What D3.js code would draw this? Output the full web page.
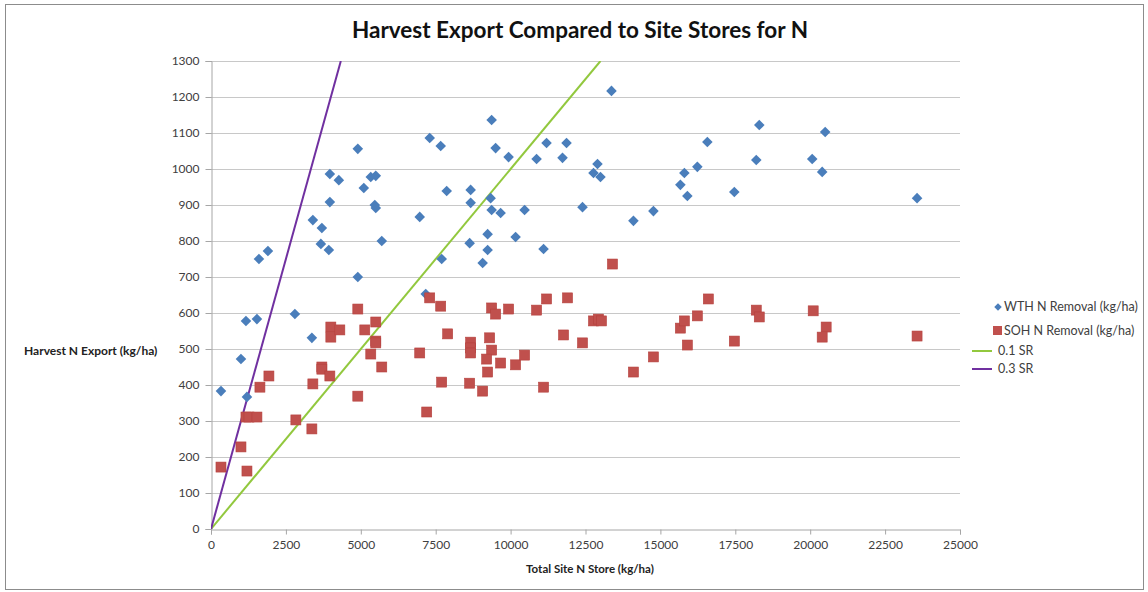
<!DOCTYPE html>
<html>
<head>
<meta charset="utf-8">
<script src="https://cdn.jsdelivr.net/npm/d3@7"></script>
<style>
  body { margin: 0; background: #fff; }
  text { font-family: Lato, "Open Sans", sans-serif; fill: #404040; }
</style>
</head>
<body>
<script>
// Whole Tree Harvest removal (blue diamonds): [site N store, N export]
const wthStore = [1600, 1900, 4900, 3967, 4267, 3967, 3400, 3700, 3667, 3933, 5100, 5333, 5500, 5467, 5500, 5700, 4900,
  6967, 7300, 7667, 7867, 7700, 7167, 8667, 8667, 8633, 9367, 9500, 9933, 9333, 9367, 9667, 10467, 9233, 9233, 9067,
  10167, 10867, 11200, 11867, 11733, 11100, 12400, 12767, 12900, 13000, 13367, 14100, 14767, 15667, 15800, 15900,
  16233, 16567, 17467, 18200, 18300, 20067, 20500, 20400, 23567, 1167, 1533, 2800, 3367, 1000, 333, 1200]
const wthExport = [750, 772, 1056, 986, 969, 908, 858, 836, 792, 775, 947, 978, 981, 900, 892, 800, 700,
  867, 1086, 1064, 939, 750, 653, 942, 906, 794, 1136, 1058, 1033, 919, 886, 878, 886, 819, 775, 739,
  811, 1028, 1072, 1072, 1031, 778, 894, 989, 1014, 978, 1217, 856, 883, 956, 989, 925,
  1006, 1075, 936, 1025, 1122, 1028, 1103, 992, 919, 578, 583, 597, 531, 472, 383, 367]

// Stem Only Harvest removal (red squares)
const sohStore = [7300, 7667, 9367, 9500, 9933, 10867, 11200, 11900, 4900, 4000, 4000, 4300, 5133, 5500, 5500, 5500, 5333, 5700,
  7900, 8667, 8667, 8667, 9300, 9367, 9200, 9667, 10167, 10467, 9233, 9067, 8633, 7700, 6967, 7200, 11100, 11767, 12400,
  3700, 3700, 3967, 3400, 4900, 2833, 3367, 1933, 1633, 1167, 1267, 1533, 1000, 333, 1200,
  12767, 12933, 13033, 14100, 14767, 15667, 15800, 15900, 16233, 16600, 17467, 18200, 18300, 20100, 20533, 20400, 23567, 13400]
const sohExport = [642, 619, 614, 597, 611, 608, 639, 642, 611, 561, 533, 553, 553, 575, 522, 517, 486, 450,
  542, 519, 503, 489, 531, 497, 472, 461, 456, 483, 436, 383, 405, 408, 489, 325, 394, 539, 517,
  450, 444, 425, 403, 369, 303, 278, 425, 394, 311, 311, 311, 228, 172, 161,
  578, 583, 578, 436, 478, 558, 578, 511, 592, 639, 522, 608, 589, 606, 561, 533, 536, 736]

// storage ratio lines (export = ratio * store)
const ratioNames = ['0.1 SR', '0.3 SR']
const ratios = [0.1, 0.3]
const ratioColors = ['#92c83e', '#7030a0']

const xTicks = [0, 2500, 5000, 7500, 10000, 12500, 15000, 17500, 20000, 22500, 25000]
const yTicks = [0, 100, 200, 300, 400, 500, 600, 700, 800, 900, 1000, 1100, 1200, 1300]

const width = 1148, height = 592
const svg = d3.select('body').append('svg')
    .attr('width', width)
    .attr('height', height)

// outer frame
svg.append('rect')
    .attr('x', 5.5).attr('y', 4.5)
    .attr('width', 1138).attr('height', 585)
    .attr('fill', 'none')
    .attr('stroke', '#8c8c8c')

const x = d3.scaleLinear().domain([0, 25000]).range([211, 960])
const y = d3.scaleLinear().domain([0, 1300]).range([529, 61])

svg.append('text')
    .attr('x', 580).attr('y', 38)
    .attr('text-anchor', 'middle')
    .style('font-size', '22.5px')
    .style('font-weight', 'bold')
    .style('fill', '#111')
    .text('Harvest Export Compared to Site Stores for N')

// horizontal gridlines
svg.append('g')
  .selectAll('line')
  .data(yTicks.slice(1))
  .enter().append('line')
    .attr('x1', x(0)).attr('x2', x(25000))
    .attr('y1', d => Math.round(y(d)) + 0.5)
    .attr('y2', d => Math.round(y(d)) + 0.5)
    .attr('stroke', '#c8c8c8')

svg.append('g')
    .attr('transform', 'translate(0,529.5)')
    .call(d3.axisBottom(x).tickValues(xTicks).tickSize(5).tickPadding(6).tickFormat(d3.format('d')))
svg.append('g')
    .attr('transform', 'translate(211.5,0)')
    .call(d3.axisLeft(y).tickValues(yTicks).tickSize(6).tickPadding(6).tickFormat(d3.format('d')))

svg.selectAll('.domain, .tick line').attr('stroke', '#a6a6a6')
svg.selectAll('.tick text')
    .style('font-size', '12px')
    .style('fill', '#404040')
    .style('font-family', 'Lato, sans-serif')

svg.append('text')
    .attr('x', 590).attr('y', 573)
    .attr('text-anchor', 'middle')
    .style('font-size', '11.5px')
    .style('font-weight', 'bold')
    .style('fill', '#222')
    .text('Total Site N Store (kg/ha)')

svg.append('text')
    .attr('x', 24).attr('y', 355)
    .style('font-size', '12px')
    .style('font-weight', 'bold')
    .style('fill', '#222')
    .text('Harvest N Export (kg/ha)')

// ratio lines, clipped to plot area
svg.append('clipPath').attr('id', 'plot')
  .append('rect')
    .attr('x', x(0)).attr('y', y(1300))
    .attr('width', x(25000) - x(0)).attr('height', y(0) - y(1300))

svg.append('g')
    .attr('clip-path', 'url(#plot)')
  .selectAll('line')
  .data(ratios)
  .enter().append('line')
    .attr('x1', x(0)).attr('y1', y(0))
    .attr('x2', d => x(1300 / d)).attr('y2', y(1300))
    .attr('stroke', (d, i) => ratioColors[i])
    .attr('stroke-width', 2)

const wth = wthStore.map((s, i) => ({store: s, exp: wthExport[i]}))
const soh = sohStore.map((s, i) => ({store: s, exp: sohExport[i]}))

const diamond = d3.symbol().type(d3.symbolSquare).size(56)

svg.append('g')
  .selectAll('path')
  .data(wth)
  .enter().append('path')
    .attr('d', diamond)
    .attr('transform', d => 'translate(' + x(d.store) + ',' + y(d.exp) + ') rotate(45)')
    .attr('fill', '#4a7ebb')

svg.append('g')
  .selectAll('rect')
  .data(soh)
  .enter().append('rect')
    .attr('x', d => x(d.store) - 5)
    .attr('y', d => y(d.exp) - 5)
    .attr('width', 10).attr('height', 10)
    .attr('fill', '#c0504d')
    .attr('stroke', '#b5403d')
    .attr('stroke-width', 0.6)

// legend
const legend = svg.append('g').attr('transform', 'translate(980,0)')
legend.append('path')
    .attr('d', d3.symbol().type(d3.symbolSquare).size(28))
    .attr('transform', 'translate(18,307) rotate(45)')
    .attr('fill', '#4a7ebb')
legend.append('rect')
    .attr('x', 13).attr('y', 326).attr('width', 9).attr('height', 9)
    .attr('fill', '#c0504d')
ratioNames.forEach(function(name, i) {
  legend.append('line')
      .attr('x1', -8).attr('x2', 12)
      .attr('y1', 351 + i * 18).attr('y2', 351 + i * 18)
      .attr('stroke', ratioColors[i])
      .attr('stroke-width', 2)
})
const legendLabels = ['WTH N Removal (kg/ha)', 'SOH N Removal (kg/ha)'].concat(ratioNames)
const legendX = [24, 24, 18, 18]
const legendY = [311, 335, 355, 373]
legend.selectAll('text.lbl')
  .data(legendLabels)
  .enter().append('text')
    .attr('class', 'lbl')
    .attr('x', (d, i) => legendX[i])
    .attr('y', (d, i) => legendY[i])
    .style('font-size', '12.5px')
    .style('fill', '#404040')
    .text(d => d)
</script>
</body>
</html>
